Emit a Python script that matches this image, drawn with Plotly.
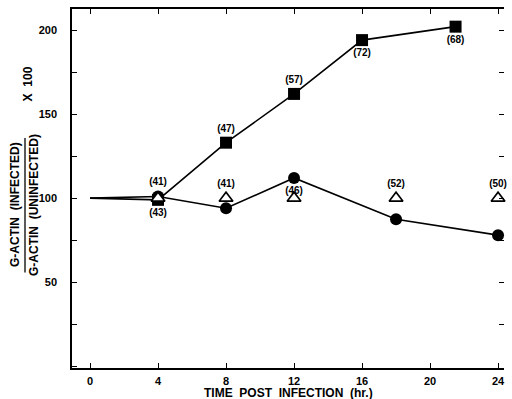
import plotly.graph_objects as go

# ---- data ----
sq_time = [0, 4, 8, 12, 16, 21.5]
sq_val = [100, 99, 133, 162, 194, 202]
sq_text = ["", "(43)", "(47)", "(57)", "(72)", "(68)"]

ci_time = [0, 4, 8, 12, 18, 24]
ci_val = [100, 101, 94, 112, 87.5, 78]
ci_text = ["", "(41)", "", "(46)", "", ""]

tr_time = [4, 8, 12, 18, 24]
tr_val = [100, 100, 100, 100, 100]
tr_text = ["", "(41)", "", "(52)", "(50)"]

x_ticks = [0, 4, 8, 12, 16, 20, 24]
y_ticks = [0, 25, 50, 75, 100, 125, 150, 175, 200]
y_ticktext = ["", "", "50", "", "100", "", "150", "", "200"]

FONT = "Liberation Sans, Arial, sans-serif"
lbl_font = dict(family=FONT, size=10, color="black", weight="bold")

sq_pos = ["bottom center", "bottom center", "top center", "top center", "bottom center", "bottom center"]
ci_pos = ["top center", "top center", "top center", "bottom center", "top center", "top center"]

fig = go.Figure()
# lines (no marker at t=0)
fig.add_trace(go.Scatter(x=sq_time, y=sq_val, mode="lines", line=dict(color="black", width=1.6),
                         hoverinfo="skip", cliponaxis=False))
fig.add_trace(go.Scatter(x=ci_time, y=ci_val, mode="lines", line=dict(color="black", width=1.6),
                         hoverinfo="skip", cliponaxis=False))
# markers
fig.add_trace(go.Scatter(x=sq_time[1:], y=sq_val[1:], mode="markers+text", text=sq_text[1:],
                         textposition=sq_pos[1:], textfont=lbl_font, cliponaxis=False,
                         marker=dict(symbol="square", size=12, color="black")))
fig.add_trace(go.Scatter(x=ci_time[1:], y=ci_val[1:], mode="markers+text", text=ci_text[1:],
                         textposition=ci_pos[1:], textfont=lbl_font, cliponaxis=False,
                         marker=dict(symbol="circle", size=12, color="black")))
fig.add_trace(go.Scatter(x=tr_time, y=tr_val, mode="markers+text", text=tr_text,
                         textposition="top center", textfont=lbl_font, cliponaxis=False,
                         marker=dict(symbol="triangle-up", size=12, color="white",
                                     line=dict(color="black", width=1.6))))
# invisible trace for right axis ticks
fig.add_trace(go.Scatter(x=[None], y=[None], yaxis="y2", showlegend=False))

axis_font = dict(family=FONT, size=11, color="black", weight="bold")

fig.update_layout(
    width=512, height=399,
    margin=dict(l=72, r=8, t=9, b=31),
    paper_bgcolor="white", plot_bgcolor="white",
    showlegend=False,
    xaxis=dict(range=[-1.06, 24.35], tickvals=x_ticks, ticks="inside", ticklen=5,
               tickwidth=1.3, tickcolor="black", showline=True, linecolor="black",
               linewidth=1.5, mirror="ticks", showgrid=False, zeroline=False,
               tickfont=axis_font, automargin=False, ticklabelstandoff=2),
    yaxis=dict(range=[-1, 212.5], tickvals=y_ticks, ticktext=y_ticktext, ticks="inside",
               ticklen=5, tickwidth=1.3, tickcolor="black", showline=True,
               linecolor="black", linewidth=1.5, showgrid=False, zeroline=False,
               tickfont=axis_font, automargin=False, ticklabelstandoff=11),
    yaxis2=dict(range=[-1, 212.5], overlaying="y", side="right", anchor="x",
                tickvals=y_ticks[1:], showticklabels=False, ticks="inside", ticklen=5,
                tickwidth=1.3, tickcolor="black", showline=False, showgrid=False,
                zeroline=False, automargin=False),
)

title_font = dict(family=FONT, size=12, color="black", weight="bold")
# x-axis title
fig.add_annotation(text="TIME  POST  INFECTION  (hr.)", xref="paper", yref="paper", x=0.5, y=0,
                   yshift=-25, showarrow=False, font=title_font, xanchor="center",
                   yanchor="middle")
# y-axis title as a fraction
fig.add_annotation(text="G-ACTIN  (INFECTED)", xref="paper", yref="paper", x=0, xshift=-57,
                   y=0.454, textangle=-90, showarrow=False, font=title_font,
                   xanchor="center", yanchor="middle")
fig.add_annotation(text="G-ACTIN  (UNINFECTED)", xref="paper", yref="paper", x=0, xshift=-38,
                   y=0.454, textangle=-90, showarrow=False, font=title_font,
                   xanchor="center", yanchor="middle")
fig.add_annotation(text="X  100", xref="paper", yref="paper", x=0, xshift=-44,
                   y=0.79, textangle=-90, showarrow=False, font=title_font,
                   xanchor="center", yanchor="middle")
fig.add_shape(type="line", xref="paper", yref="paper", xsizemode="pixel", xanchor=0,
              x0=-47, x1=-47, y0=0.266, y1=0.641, line=dict(color="black", width=1.3))

fig.write_html("out.html", config={"displayModeBar": False},
               post_script="document.body.style.margin='0';")
